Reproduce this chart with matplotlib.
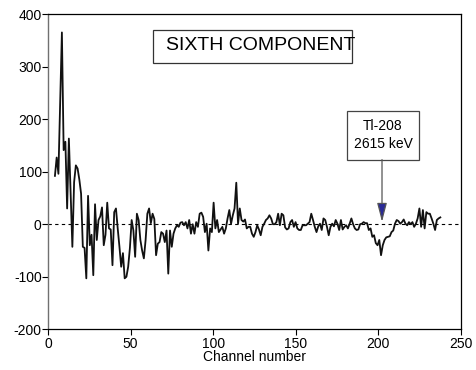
import numpy as np
import matplotlib
matplotlib.use("Agg")
import matplotlib.pyplot as plt
from matplotlib.patches import Rectangle

plt.rcParams["font.family"] = ["Liberation Sans", "DejaVu Sans"]
plt.rcParams["axes.unicode_minus"] = False

# first / last channel of the spectrum
FIRST_CHANNEL = 4.2
LAST_CHANNEL = 237.5

# sixth component amplitude, one value per sampled channel
counts = [
    92, 127, 96, 230, 365, 141, 157, 30, 163, 60,
    -43, 80, 112, 106, 85, 58, -43, -45, -103, 54,
    -40, -20, -97, 38, -30, 8, 15, 32, -40, -20,
    41, -8, -10, -78, 23, 30, -8, -43, -81, -55,
    -103, -100, -81, -45, 8, -12, -62, 20, 8, -30,
    -50, -65, -30, 20, 30, 2, 20, 10, -59, -37,
    -34, -15, -18, -34, -12, -94, -12, -43, -18, -8,
    -2, -5, 3, 4, -2, 4, -8, 8, -18, 0,
    -18, 4, -5, 20, 22, 14, -15, 1, -50, -8,
    -15, 41, -8, 8, -15, -10, -5, -18, -8, 11,
    27, 1, 17, 30, 79, 1, 30, 8, 5, 9,
    -8, -5, -5, -18, -24, -15, -2, -10, -21, -5,
    1, 8, 11, 17, 11, 0, 0, 4, 20, -2,
    20, 17, -6, -10, -8, 4, 8, -5, 4, -8,
    -11, -11, -2, -2, -2, 1, 4, 20, 8, -5,
    -15, -4, 1, -11, 11, 8, -5, -21, -5, 1,
    -4, 8, 1, -11, 8, -10, -5, -2, -8, 1,
    11, 0, -8, -11, -10, 0, 1, 4, 2, 2,
    -11, -8, -24, -21, -36, -40, -30, -59, -40, -30,
    -25, -24, -23, -15, -12, 1, 8, 6, 1, 4,
    9, 1, -2, 4, 0, 4, -5, 1, 11, 30,
    -5, 27, -8, 23, 20, 20, 11, 1, -11, 8,
    11, 13,
]

x_ticks = [0, 50, 100, 150, 200, 250]
y_ticks = [-200, -100, 0, 100, 200, 300, 400]

panel_title = "SIXTH COMPONENT"
peak_label = "Tl-208\n2615 keV"
peak_channel = 202.2


def main():

    channels = np.linspace(FIRST_CHANNEL, LAST_CHANNEL, len(counts))

    fig = plt.figure(figsize=(4.77, 3.70), dpi=100)
    ax = fig.add_axes([0.1006, 0.110, 0.8658, 0.852])

    # zero reference
    ax.axhline(0, color="black", lw=0.8, ls=(0, (3, 3)), zorder=1)

    ax.plot(channels, counts, color="#111111", lw=1.3, zorder=3)

    ax.set_xlim(0, 250)
    ax.set_ylim(-200, 400)
    ax.set_xticks(x_ticks)
    ax.set_yticks(y_ticks)
    ax.tick_params(direction="out", length=4, width=0.8, labelsize=10,
                   colors="black")
    ax.tick_params(axis="y", pad=0.5)
    ax.tick_params(axis="x", pad=1.5)

    ax.set_xlabel("Channel number", fontsize=10, labelpad=-1)

    for side in ["top", "right", "bottom"]:
        ax.spines[side].set_color("black")
        ax.spines[side].set_linewidth(0.9)
    ax.spines["left"].set_color("#707070")
    ax.spines["left"].set_linewidth(1.0)

    # title box
    ax.add_patch(Rectangle((63.4, 307.7), 120.8, 61.3, fill=False,
                           ec="#333333", lw=0.9, zorder=4))
    ax.text(71.4, 340, panel_title, fontsize=14, ha="left", va="center",
            zorder=5)

    # Tl-208 annotation box
    ax.add_patch(Rectangle((180.8, 123), 44.0, 92, facecolor="white",
                           ec="#444444", lw=0.9, zorder=4))
    ax.text(202.8, 170, peak_label, fontsize=10, ha="center", va="center",
            linespacing=1.35, zorder=5)

    ax.annotate(
        "",
        xy=(peak_channel, 4.4),
        xytext=(peak_channel, 123),
        arrowprops=dict(
            arrowstyle="-|>,head_length=1.15,head_width=0.3",
            fc="#2a2a96",
            ec="#555555",
            lw=0.9,
            shrinkA=0,
            shrinkB=0,
        ),
        zorder=5,
    )

    fig.savefig("out.png", dpi=100)
    plt.close(fig)


if __name__ == "__main__":
    main()
